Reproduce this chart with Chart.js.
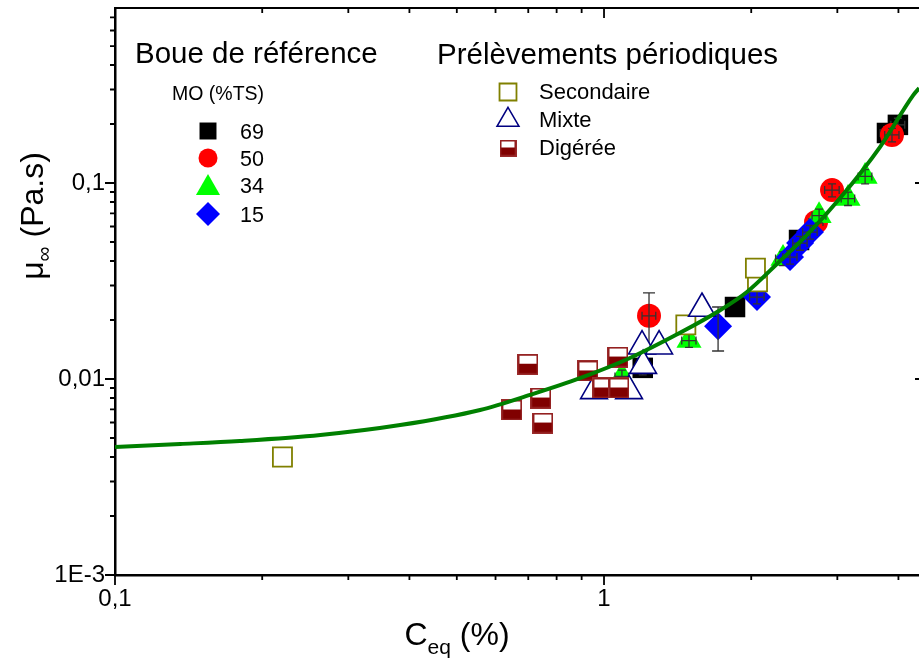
<!DOCTYPE html>
<html>
<head>
<meta charset="utf-8">
<script src="https://cdn.jsdelivr.net/npm/chart.js@4.4.0/dist/chart.umd.min.js"></script>
<style>
  html, body { margin: 0; padding: 0; background: #fff; overflow: hidden; }
  #chart { display: block; }
</style>
</head>
<body>
<canvas id="chart" width="930" height="660"></canvas>
<script>
// values (log-log, C_eq in %, mu in Pa.s)

// fitted curve
const curveC  = [0.1, 0.136, 0.18, 0.263, 0.383, 0.558, 0.706, 0.893, 1.13, 1.43, 1.73, 1.96, 2.29, 2.60, 3.04, 3.67, 4.29, 4.41];
const curveMu = [0.0045, 0.00466, 0.00483, 0.00518, 0.00582, 0.00695, 0.0083, 0.0101, 0.0128, 0.0172, 0.0225, 0.0278, 0.040, 0.0543, 0.0838, 0.153, 0.281, 0.305];

// reference sludge, MO (%TS)
const c69 = [1.20, 1.853, 2.505, 3.79, 3.99];
const mu69 = [0.0114, 0.0233, 0.0512, 0.180, 0.198];
const c69ErrX = [0.04, 0, 0, 0.12, 0.13];
const mu69ErrY = [0.0009, 0, 0, 0.014, 0.016];

const c50 = [1.236, 2.714, 2.926, 3.88];
const mu50 = [0.0210, 0.0632, 0.092, 0.176];
const c50ErrX = [0.04, 0.09, 0.10, 0.13];
const mu50ErrY = [0.0065, 0.005, 0.007, 0.014];

const c34 = [1.088, 1.492, 2.323, 2.753, 3.155, 3.419];
const mu34 = [0.0103, 0.0157, 0.0412, 0.0681, 0.0833, 0.108];
const c34ErrX = [0.035, 0.05, 0.08, 0.09, 0.10, 0.11];
const mu34ErrY = [0.0008, 0.0012, 0.0033, 0.0055, 0.0065, 0.009];

const c15 = [1.711, 2.055, 2.401, 2.517, 2.638];
const mu15 = [0.0186, 0.0262, 0.0419, 0.0494, 0.0562];
const c15ErrX = [0, 0.07, 0.08, 0.085, 0.09];
const mu15ErrY = [0.0047, 0.002, 0.0033, 0.004, 0.0045];

// periodic samples
const cSec = [0.22, 1.47, 2.06, 2.04];
const muSec = [0.0040, 0.0189, 0.0313, 0.0368];

const cMix = [1.196, 1.296, 1.202, 1.586, 0.954, 1.125];
const muMix = [0.0147, 0.0147, 0.0117, 0.0229, 0.0087, 0.0087];

const cDig = [0.699, 0.648, 0.743, 0.750, 0.927, 1.068, 0.995, 1.073];
const muDig = [0.0119, 0.00695, 0.0080, 0.00596, 0.0110, 0.01295, 0.0090, 0.0090];

// axis ticks
const xTickValues = [0.1, 1];
const xTickLabels = ['0,1', '1'];
const yTickValues = [0.001, 0.01, 0.1];
const yTickLabels = ['1E-3', '0,01', '0,1'];

const refLabels = ['69', '50', '34', '15'];
const sampleLabels = ['Secondaire', 'Mixte', 'Digérée'];

const FONT = "'Liberation Sans', Arial, sans-serif";
Chart.defaults.font.family = FONT;
Chart.defaults.color = '#000';

const pts = (xs, ys) => xs.map((x, i) => ({ x: x, y: ys[i] }));

function labelFor(values, labels, v) {
    for (let i = 0; i < values.length; i++) {
        if (Math.abs(Math.log10(v) - Math.log10(values[i])) < 1e-6) return labels[i];
    }
    return '';
}

// half-filled square used for "Digérée"
function digereeMarker(size) {
    const c = document.createElement('canvas');
    c.width = size; c.height = size;
    const g = c.getContext('2d');
    g.fillStyle = '#800000';
    g.fillRect(0, 0, size, size);
    g.fillStyle = '#fff';
    g.fillRect(2, 2, size - 4, Math.round(size * 0.43) - 1);
    g.strokeStyle = '#9a2a2a';
    g.lineWidth = 1.5;
    g.strokeRect(0.75, 0.75, size - 1.5, size - 1.5);
    return c;
}
const digPlot = digereeMarker(21);
const digLegend = digereeMarker(17);

function tickLen(v) {
    const e = Math.floor(Math.log10(v) + 1e-9);
    const s = v / Math.pow(10, e);
    const r = Math.round(s);
    if (Math.abs(s - r) > 1e-6 || r < 1 || r > 9) return 0;
    return r === 1 ? 10 : 5;
}

const errorBars = {
    id: 'errorBars',
    afterDatasetDraw(chart, args) {
        const ds = chart.data.datasets[args.index];
        if (!ds.errX) return;
        const ctx = chart.ctx, x = chart.scales.x, y = chart.scales.y;
        ctx.save();
        ctx.strokeStyle = '#333';
        ctx.lineWidth = 1.3;
        ds.data.forEach((p, i) => {
            const px = x.getPixelForValue(p.x), py = y.getPixelForValue(p.y);
            const ex = ds.errX[i], ey = ds.errY[i];
            ctx.beginPath();
            if (ex) {
                const a = x.getPixelForValue(p.x - ex), b = x.getPixelForValue(p.x + ex);
                ctx.moveTo(a, py); ctx.lineTo(b, py);
                ctx.moveTo(a, py - 4); ctx.lineTo(a, py + 4);
                ctx.moveTo(b, py - 4); ctx.lineTo(b, py + 4);
            }
            if (ey) {
                const a = y.getPixelForValue(p.y + ey), b = y.getPixelForValue(p.y - ey);
                const cap = (b - a) > 30 ? 6 : 4;
                ctx.moveTo(px, a); ctx.lineTo(px, b);
                ctx.moveTo(px - cap, a); ctx.lineTo(px + cap, a);
                ctx.moveTo(px - cap, b); ctx.lineTo(px + cap, b);
            }
            ctx.stroke();
        });
        ctx.restore();
    }
};

const frameTicks = {
    id: 'frameTicks',
    afterDraw(chart) {
        const ctx = chart.ctx, a = chart.chartArea, x = chart.scales.x, y = chart.scales.y;
        ctx.save();
        ctx.strokeStyle = '#000';
        ctx.lineWidth = 2;
        ctx.beginPath();
        ctx.moveTo(a.left, a.top); ctx.lineTo(a.right, a.top); ctx.lineTo(a.right, a.bottom);
        ctx.stroke();

        ctx.lineWidth = 1.8;
        ctx.beginPath();
        x.ticks.forEach(t => {
            const len = tickLen(t.value);
            if (!len) return;
            const px = x.getPixelForValue(t.value);
            ctx.moveTo(px, a.bottom); ctx.lineTo(px, a.bottom + len);
            ctx.moveTo(px, a.top); ctx.lineTo(px, a.top + len);
        });
        y.ticks.forEach(t => {
            const len = tickLen(t.value);
            if (!len) return;
            const py = y.getPixelForValue(t.value);
            ctx.moveTo(a.left - len, py); ctx.lineTo(a.left, py);
            ctx.moveTo(a.right - len, py); ctx.lineTo(a.right, py);
        });
        ctx.stroke();
        ctx.restore();
    }
};

const titlesLegend = {
    id: 'titlesLegend',
    afterDraw(chart) {
        const ctx = chart.ctx;
        ctx.save();
        ctx.fillStyle = '#000';
        ctx.textBaseline = 'alphabetic';
        ctx.textAlign = 'left';

        // x axis title: C_eq (%)
        ctx.font = '32px ' + FONT;
        const wC = ctx.measureText('C').width;
        ctx.font = '21px ' + FONT;
        const wEq = ctx.measureText('eq').width;
        ctx.font = '32px ' + FONT;
        const wRest = ctx.measureText(' (%)').width;
        let x0 = 457 - (wC + wEq + wRest) / 2;
        ctx.fillText('C', x0, 645);
        ctx.font = '21px ' + FONT;
        ctx.fillText('eq', x0 + wC, 654);
        ctx.font = '32px ' + FONT;
        ctx.fillText(' (%)', x0 + wC + wEq, 645);

        // y axis title: mu_inf (Pa.s)
        ctx.save();
        ctx.translate(43, 216);
        ctx.rotate(-Math.PI / 2);
        ctx.font = '32px ' + FONT;
        const wMu = ctx.measureText('\u03bc').width;
        ctx.font = '21px ' + FONT;
        const wInf = ctx.measureText('\u221e').width;
        ctx.font = '32px ' + FONT;
        const wPa = ctx.measureText(' (Pa.s)').width;
        let y0 = -(wMu + wInf + wPa) / 2;
        ctx.fillText('\u03bc', y0, 0);
        ctx.font = '21px ' + FONT;
        ctx.fillText('\u221e', y0 + wMu, 8);
        ctx.font = '32px ' + FONT;
        ctx.fillText(' (Pa.s)', y0 + wMu + wInf, 0);
        ctx.restore();

        // legend headings
        ctx.font = '29.5px ' + FONT;
        ctx.fillText('Boue de r\u00e9f\u00e9rence', 135, 63);
        ctx.fillText('Pr\u00e9l\u00e8vements p\u00e9riodiques', 437, 64);
        ctx.font = '19.5px ' + FONT;
        ctx.fillText('MO (%TS)', 172, 100);

        // legend: reference sludge
        const refStyles = [
            { pointStyle: 'rect', radius: 12, color: '#000000', cy: 131 },
            { pointStyle: 'circle', radius: 9.5, color: '#ff0000', cy: 158 },
            { pointStyle: 'triangle', radius: 13.9, color: '#00ff00', cy: 188 },
            { pointStyle: 'rectRot', radius: 12, color: '#0000ff', cy: 214 }
        ];
        ctx.font = '21.5px ' + FONT;
        refStyles.forEach((s, i) => {
            ctx.fillStyle = s.color;
            ctx.strokeStyle = s.color;
            Chart.helpers.drawPoint(ctx, { pointStyle: s.pointStyle, radius: s.radius, rotation: 0, borderWidth: 0 }, 208, s.cy);
            ctx.fillStyle = '#000';
            ctx.fillText(refLabels[i], 240, [139, 166, 193, 222][i]);
        });

        // legend: periodic samples
        ctx.fillStyle = '#fff';
        ctx.strokeStyle = '#808000';
        ctx.lineWidth = 1.8;
        Chart.helpers.drawPoint(ctx, { pointStyle: 'rect', radius: 12, rotation: 0, borderWidth: 1.8 }, 508, 92);
        ctx.strokeStyle = '#000080';
        ctx.lineWidth = 1.5;
        Chart.helpers.drawPoint(ctx, { pointStyle: 'triangle', radius: 12.7, rotation: 0, borderWidth: 1.5 }, 508, 120);
        ctx.drawImage(digLegend, 508 - 8.5, 148 - 8.5);
        ctx.fillStyle = '#000';
        ctx.font = '22px ' + FONT;
        ctx.fillText(sampleLabels[0], 539, 99);
        ctx.fillText(sampleLabels[1], 539, 127);
        ctx.fillText(sampleLabels[2], 539, 155);
        ctx.restore();
    }
};

new Chart(document.getElementById('chart'), {
    type: 'scatter',
    data: {
        datasets: [
            {
                label: 'fit', data: pts(curveC, curveMu), showLine: true,
                borderColor: '#008000', borderWidth: 4, pointRadius: 0,
                cubicInterpolationMode: 'monotone', fill: false
            },
            {
                label: 'Digérée', data: pts(cDig, muDig),
                pointStyle: digPlot, pointRadius: 10
            },
            {
                label: 'Mixte', data: pts(cMix, muMix), pointStyle: 'triangle',
                pointRadius: 15.5, pointBackgroundColor: '#fff', pointBorderColor: '#000080', pointBorderWidth: 1.6
            },
            {
                label: 'Secondaire', data: pts(cSec, muSec), pointStyle: 'rect',
                pointRadius: 13.5, pointBackgroundColor: '#fff', pointBorderColor: '#808000', pointBorderWidth: 1.8
            },
            {
                label: '15', data: pts(c15, mu15), pointStyle: 'rectRot', pointRadius: 14,
                pointBackgroundColor: '#0000ff', pointBorderWidth: 0, errX: c15ErrX, errY: mu15ErrY
            },
            {
                label: '34', data: pts(c34, mu34), pointStyle: 'triangle', pointRadius: 14.5,
                pointBackgroundColor: '#00ff00', pointBorderWidth: 0, errX: c34ErrX, errY: mu34ErrY
            },
            {
                label: '50', data: pts(c50, mu50), pointStyle: 'circle', pointRadius: 12,
                pointBackgroundColor: '#ff0000', pointBorderWidth: 0, errX: c50ErrX, errY: mu50ErrY
            },
            {
                label: '69', data: pts(c69, mu69), pointStyle: 'rect', pointRadius: 14.5,
                pointBackgroundColor: '#000000', pointBorderWidth: 0, errX: c69ErrX, errY: mu69ErrY
            }
        ]
    },
    options: {
        responsive: false,
        animation: false,
        devicePixelRatio: 1,
        events: [],
        layout: { autoPadding: false, padding: { left: 0, right: 5, top: 8, bottom: 0 } },
        plugins: { legend: { display: false }, tooltip: { enabled: false } },
        scales: {
            x: {
                type: 'logarithmic', position: 'bottom', min: 0.1, max: 4.533,
                grid: { display: false, drawTicks: false, tickLength: 0 },
                border: { display: true, color: '#000', width: 2.5 },
                ticks: {
                    autoSkip: false, maxRotation: 0, padding: 10, color: '#000',
                    font: { size: 24 },
                    callback: v => labelFor(xTickValues, xTickLabels, v)
                },
                afterFit: s => { s.height = 85; s.paddingLeft = 0; s.paddingRight = 0; }
            },
            y: {
                type: 'logarithmic', position: 'left', min: 0.001, max: 0.7816,
                grid: { display: false, drawTicks: false, tickLength: 0 },
                border: { display: true, color: '#000', width: 2.5 },
                ticks: {
                    autoSkip: false, padding: 10, color: '#000',
                    font: { size: 24 },
                    callback: v => labelFor(yTickValues, yTickLabels, v)
                },
                afterFit: s => { s.width = 115; s.paddingTop = 0; s.paddingBottom = 0; }
            }
        }
    },
    plugins: [errorBars, frameTicks, titlesLegend]
});
</script>
</body>
</html>
